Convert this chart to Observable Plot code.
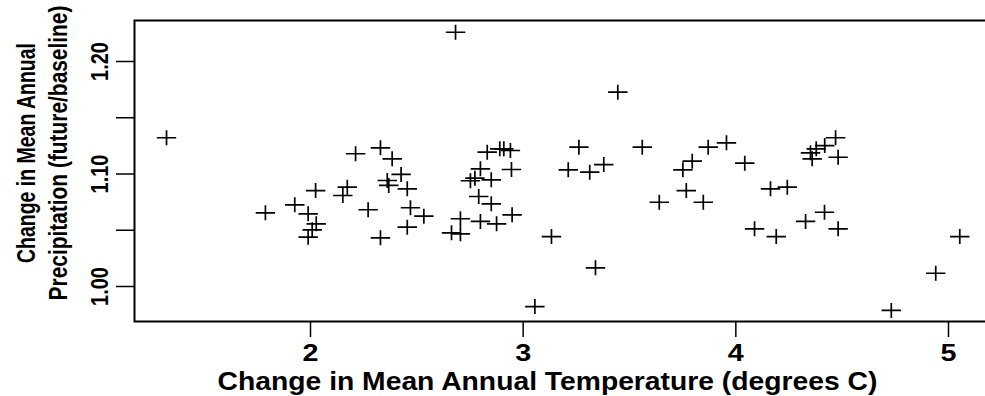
<!DOCTYPE html>
<html><head><meta charset="utf-8">
<script src="https://cdn.jsdelivr.net/npm/d3@7"></script>
<script src="https://cdn.jsdelivr.net/npm/@observablehq/plot@0.6"></script>
<style>body{margin:0;background:#fff}</style>
</head><body><div id="chart"></div>
<script>
const tempChange = [
  1.323, 1.788, 1.926, 1.989, 2.024, 2.027, 2.008, 1.989, 2.152, 2.173,
  2.212, 2.271, 2.329, 2.329, 2.384, 2.361, 2.368, 2.426, 2.455, 2.470,
  2.455, 2.533, 2.682, 3.445, 2.663, 2.705, 2.705, 2.799, 2.875, 2.948,
  2.791, 2.850, 2.752, 2.773, 2.799, 2.850, 2.945, 2.831, 2.890, 2.909,
  2.940, 3.133, 3.055, 3.340, 3.262, 3.212, 3.313, 3.379, 3.560, 3.640,
  3.751, 3.795, 3.767, 3.847, 3.870, 3.956, 4.042, 4.163, 4.242, 4.088,
  4.190, 4.328, 4.417, 4.481, 4.469, 4.418, 4.378, 4.351, 4.359, 4.481,
  4.731, 4.940, 5.053
];
const precipChange = [
  1.1322, 1.0655, 1.0726, 1.0646, 1.0853, 1.0557, 1.0504, 1.0438, 1.0809, 1.0883,
  1.1180, 1.0682, 1.1233, 1.0433, 1.1135, 1.0942, 1.0898, 1.0996, 1.0868, 1.0700,
  1.0527, 1.0625, 1.2260, 1.1727, 1.0477, 1.0468, 1.0602, 1.0578, 1.0557, 1.0637,
  1.0800, 1.0735, 1.0940, 1.0963, 1.1046, 1.0948, 1.1040, 1.1194, 1.1224, 1.1224,
  1.1209, 1.0444, 0.9822, 1.0166, 1.1238, 1.1037, 1.1016, 1.1084, 1.1238, 1.0749,
  1.1037, 1.1114, 1.0853, 1.0749, 1.1238, 1.1277, 1.1096, 1.0868, 1.0883, 1.0513,
  1.0444, 1.0578, 1.0660, 1.0513, 1.1322, 1.1253, 1.1224, 1.1188, 1.1135, 1.1149,
  0.9787, 1.0118, 1.0444
];
const xTicks = [2, 3, 4, 5];
const yTicks = [1.00, 1.05, 1.10, 1.15, 1.20];
const yLabelTicks = [1.00, 1.10, 1.20];
const yLabelText = ["1.00", "1.10", "1.20"];
const xTitle = "Change in Mean Annual Temperature (degrees C)";
const yTitle1 = "Change in Mean Annual";
const yTitle2 = "Precipitation (future/baseline)";

const data = tempChange.map((t, i) => ({t, p: precipChange[i]}));
const yLabels = yLabelTicks.map((v, i) => ({v, s: yLabelText[i]}));
const xLabels = xTicks.map(v => ({v, s: String(v)}));

const cross = {
  draw(ctx) {
    ctx.moveTo(-9.7, 0); ctx.lineTo(9.7, 0);
    ctx.moveTo(0, -7.5); ctx.lineTo(0, 7.5);
  }
};

const font = "'Liberation Sans', Arial, Helvetica, sans-serif";
const chart = Plot.plot({
  width: 985, height: 396,
  marginLeft: 134, marginRight: -1, marginTop: 20, marginBottom: 75,
  style: {fontFamily: font, fontWeight: "bold", background: "white", color: "black"},
  x: {domain: [1.17241, 5.17868], axis: null},
  y: {domain: [0.968889, 1.236444], axis: null},
  marks: [
    Plot.frame({stroke: "black", strokeWidth: 2}),
    Plot.axisX({ticks: xTicks, tickSize: 16, strokeWidth: 1.5, label: null, tickFormat: () => ""}),
    Plot.axisY({ticks: yTicks, tickSize: 18, strokeWidth: 1.5, label: null, tickFormat: () => ""}),
    Plot.text(xLabels, {x: "v", text: "s", frameAnchor: "bottom", dy: 39, textAnchor: "middle", lineAnchor: "bottom", fontSize: 24, ariaLabel: () => "xlabels"}),
    Plot.text(yLabels, {y: "v", text: "s", frameAnchor: "left", dx: -27, rotate: -90, textAnchor: "middle", lineAnchor: "bottom", fontSize: 24, ariaLabel: () => "ylabels"}),
    Plot.text([yTitle1], {text: d => d, frameAnchor: "left", dx: -100, dy: -18, rotate: -90, textAnchor: "middle", lineAnchor: "bottom", fontSize: 26, ariaLabel: () => "ytitle1"}),
    Plot.text([yTitle2], {text: d => d, frameAnchor: "left", dx: -68, dy: -18, rotate: -90, textAnchor: "middle", lineAnchor: "bottom", fontSize: 26, ariaLabel: () => "ytitle2"}),
    Plot.text([xTitle], {text: d => d, frameAnchor: "bottom", dx: -13, dy: 68, textAnchor: "middle", lineAnchor: "bottom", fontSize: 26, ariaLabel: () => "xtitle"}),
    Plot.dot(data, {x: "t", y: "p", symbol: cross, fill: "none", stroke: "black", strokeWidth: 1.7})
  ]
});
document.getElementById("chart").appendChild(chart);
const svg = d3.select(chart);
// stretch/compress each text along its own writing direction to the measured length
function fit(name, len) {
  svg.selectAll(`text[aria-label="${name}"]`).each(function() {
    const w = this.getComputedTextLength();
    if (!w) return;
    const sx = len / w;
    const t = this.getAttribute("transform") || "";
    const x = +this.getAttribute("x") || 0, y = +this.getAttribute("y") || 0;
    this.setAttribute("transform", `${t} translate(${x},${y}) scale(${sx},1) translate(${-x},${-y})`);
  });
}
fit("xlabels", 16);
fit("ylabels", 39);
fit("ytitle1", 220);
fit("ytitle2", 295);
fit("xtitle", 660);
</script>
</body></html>
